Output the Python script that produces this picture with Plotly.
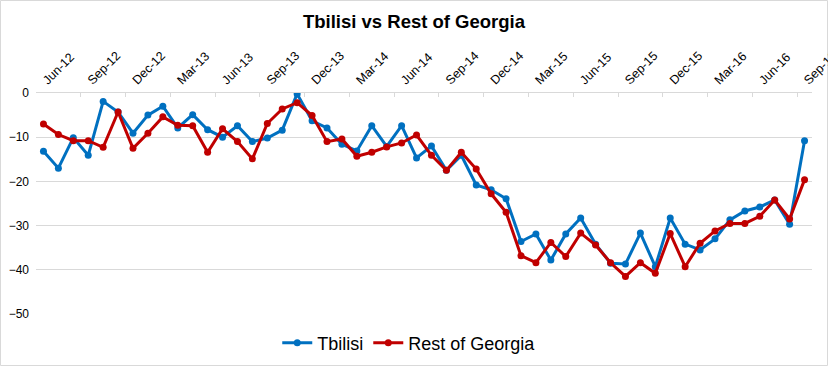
import plotly.graph_objects as go

month_names = ["Jan", "Feb", "Mar", "Apr", "May", "Jun", "Jul", "Aug", "Sep", "Oct", "Nov", "Dec"]
categories = []
y, m = 2012, 5
for _ in range(52):
    categories.append(f"{month_names[m]}-{str(y)[2:]}")
    m += 1
    if m == 12:
        m, y = 0, y + 1

tbilisi = [-13.2, -17.0, -10.1, -14.1, -1.9, -4.3, -9.1, -5.0, -3.0, -7.9,
           -4.9, -8.3, -10.0, -7.4, -11.0, -10.2, -8.4, -0.2, -6.3, -7.9,
           -11.6, -13.1, -7.4, -12.1, -7.4, -14.7, -12.0, -17.5, -14.1, -20.8,
           -21.9, -23.9, -33.6, -31.9, -37.8, -31.9, -28.3, -34.2, -38.5, -38.7,
           -31.7, -39.3, -28.3, -34.2, -35.5, -33.0, -28.7, -26.7, -25.8, -24.2,
           -29.7, -10.8]
rest_of_georgia = [-7.0, -9.4, -10.8, -10.8, -12.3, -4.3, -12.5, -9.1, -5.4, -7.3,
                   -7.4, -13.4, -8.1, -11.0, -14.9, -6.9, -3.6, -2.2, -5.1, -11.0,
                   -10.4, -14.3, -13.4, -12.2, -11.3, -9.5, -14.1, -17.5, -13.4, -17.2,
                   -22.8, -27.0, -36.8, -38.4, -33.8, -37.0, -31.7, -34.4, -38.4, -41.5,
                   -38.4, -40.8, -31.8, -39.3, -34.0, -31.2, -29.5, -29.5, -27.9, -24.2,
                   -28.5, -19.6]
tick_labels = categories[::3]
y_ticks = [0, -10, -20, -30, -40, -50]

FONT = "Arial, Liberation Sans, sans-serif"

fig = go.Figure()
fig.add_trace(go.Scatter(x=categories, y=tbilisi, name="Tbilisi", mode="lines+markers",
                         line=dict(color="#0070C0", width=3),
                         marker=dict(color="#0070C0", size=7, symbol="circle")))
fig.add_trace(go.Scatter(x=categories, y=rest_of_georgia, name="Rest of Georgia", mode="lines+markers",
                         line=dict(color="#C00000", width=3),
                         marker=dict(color="#C00000", size=7, symbol="circle")))

fig.update_layout(
    width=828, height=366,
    margin=dict(l=36, r=16, t=93, b=52, autoexpand=False),
    paper_bgcolor="white", plot_bgcolor="white",
    font=dict(family=FONT, color="black"),
    title=dict(text="<b>Tbilisi vs Rest of Georgia</b>", x=0.5, xanchor="center",
               y=1 - 22 / 366, yanchor="middle", font=dict(size=18.5, family=FONT, color="black")),
    xaxis=dict(type="category", categoryorder="array", categoryarray=categories,
               side="top", tickmode="array", tickvals=tick_labels, ticktext=tick_labels,
               tickangle=-45, tickson="boundaries", ticks="inside", ticklen=4,
               tickcolor="#d9d9d9", showgrid=False, showline=True, linecolor="#d9d9d9",
               linewidth=1, tickfont=dict(size=12.5, family=FONT, color="black"),
               range=[-0.5, 51.5], zeroline=False, automargin=False),
    yaxis=dict(range=[-50, 0], tickmode="array", tickvals=y_ticks, showgrid=True,
               gridcolor="#d9d9d9", gridwidth=1, zeroline=False, showline=False,
               tickfont=dict(size=12, family=FONT, color="black"), ticklabelstandoff=6,
               automargin=False),
    legend=dict(orientation="h", x=0.481, xanchor="center", y=-0.131, yanchor="middle",
                font=dict(size=18, family=FONT, color="black"), itemwidth=30,
                bgcolor="rgba(0,0,0,0)"),
    shapes=[dict(type="rect", xref="paper", yref="paper",
                 x0=(0.5 - 36) / 776, x1=(827.5 - 36) / 776,
                 y0=(314 - 365.5) / 221, y1=(314 - 0.5) / 221,
                 line=dict(color="#d9d9d9", width=1), fillcolor="rgba(0,0,0,0)", layer="below")],
)

fig.write_html("out.html", config={"displayModeBar": False},
               post_script="document.body.style.margin='0';document.body.style.overflow='hidden';")
